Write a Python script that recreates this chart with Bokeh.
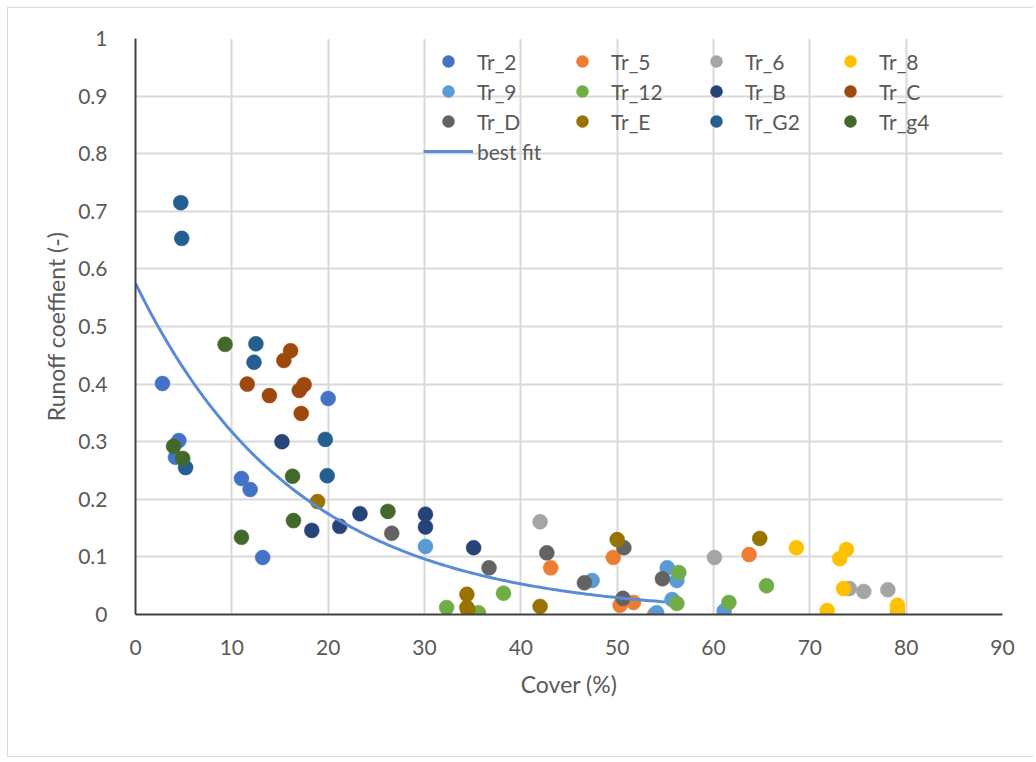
from bokeh.plotting import figure
from bokeh.models import Legend, LegendItem, FixedTicker, Range1d
from bokeh.embed import file_html
from bokeh.resources import INLINE
import numpy as np

# ---------------- data ----------------
tr2_x = [2.8, 4.5, 4.15, 11.0, 11.9, 13.2, 20.0]
tr2_y = [0.401, 0.302, 0.273, 0.236, 0.217, 0.099, 0.375]

tr5_x = [43.1, 49.6, 50.3, 51.7, 53.9, 63.7]
tr5_y = [0.081, 0.099, 0.016, 0.021, 0.0, 0.104]

tr6_x = [42.0, 60.1, 74.1, 75.6, 78.1, 79.1]
tr6_y = [0.161, 0.099, 0.045, 0.040, 0.043, 0.002]

tr8_x = [68.6, 73.1, 73.8, 73.5, 71.8, 79.1, 79.1]
tr8_y = [0.116, 0.097, 0.113, 0.045, 0.007, 0.016, 0.009]

tr9_x = [30.1, 47.4, 54.1, 55.2, 56.2, 55.7, 61.1]
tr9_y = [0.118, 0.059, 0.003, 0.081, 0.059, 0.026, 0.006]

tr12_x = [32.3, 35.6, 38.2, 56.4, 56.2, 61.6, 65.5]
tr12_y = [0.012, 0.003, 0.037, 0.073, 0.019, 0.021, 0.050]

trB_x = [15.2, 18.3, 21.2, 23.3, 30.1, 30.1, 35.1]
trB_y = [0.300, 0.146, 0.153, 0.175, 0.174, 0.152, 0.116]

trC_x = [11.6, 13.9, 15.4, 16.1, 17.0, 17.5, 17.2]
trC_y = [0.400, 0.380, 0.441, 0.458, 0.389, 0.399, 0.349]

trD_x = [26.6, 36.7, 42.7, 46.6, 50.7, 50.6, 54.7]
trD_y = [0.141, 0.081, 0.107, 0.055, 0.116, 0.028, 0.062]

trE_x = [18.9, 34.4, 34.4, 34.5, 42.0, 50.0, 64.8]
trE_y = [0.196, 0.035, 0.012, 0.008, 0.014, 0.130, 0.132]

trG2_x = [4.7, 4.8, 12.5, 12.3, 19.7, 19.9, 5.2]
trG2_y = [0.715, 0.653, 0.470, 0.438, 0.304, 0.241, 0.255]

trg4_x = [9.3, 3.95, 4.9, 16.3, 16.4, 11.0, 26.2]
trg4_y = [0.469, 0.292, 0.271, 0.240, 0.163, 0.134, 0.179]

series_names = ["Tr_2", "Tr_5", "Tr_6", "Tr_8", "Tr_9", "Tr_12",
                "Tr_B", "Tr_C", "Tr_D", "Tr_E", "Tr_G2", "Tr_g4"]
series_x = [tr2_x, tr5_x, tr6_x, tr8_x, tr9_x, tr12_x,
            trB_x, trC_x, trD_x, trE_x, trG2_x, trg4_x]
series_y = [tr2_y, tr5_y, tr6_y, tr8_y, tr9_y, tr12_y,
            trB_y, trC_y, trD_y, trE_y, trG2_y, trg4_y]
series_colors = ["#4472C4", "#ED7D31", "#A5A5A5", "#FFC000", "#5B9BD5", "#70AD47",
                 "#264478", "#9E480E", "#636363", "#997300", "#255E91", "#43682B"]

# exponential best fit  y = a * exp(-k x), drawn from x=0 to x=55
fit_a = 0.575
fit_k = 0.0595
fit_x_start = 0.0
fit_x_end = 55.0

x_ticks = [0, 10, 20, 30, 40, 50, 60, 70, 80, 90]
y_ticks = [0, 0.1, 0.2, 0.3, 0.4, 0.5, 0.6, 0.7, 0.8, 0.9, 1.0]
y_labels = ["0", "0.1", "0.2", "0.3", "0.4", "0.5", "0.6", "0.7", "0.8", "0.9", "1"]

x_title = "Cover (%)"
y_title = "Runoff coeffient (-)"

# ---------------- figure ----------------
FONT = "Lato"
TXT = "#595959"

p = figure(width=1026, height=750, output_backend="svg", toolbar_location=None,
           x_range=Range1d(0, 90), y_range=Range1d(0, 1),
           min_border_left=127, min_border_right=32,
           min_border_top=30, min_border_bottom=144,
           background_fill_color="white", border_fill_color="white")
p.outline_line_color = None
p.styles = {"border-top": "1px solid #D9D9D9",
            "border-left": "1px solid #D9D9D9",
            "border-bottom": "1px solid #D9D9D9",
            "margin-top": "7px", "margin-left": "7px"}

p.grid.grid_line_color = "#D9D9D9"
p.grid.grid_line_width = 2
p.xgrid.ticker = FixedTicker(ticks=x_ticks)
p.ygrid.ticker = FixedTicker(ticks=y_ticks)

p.xaxis.ticker = FixedTicker(ticks=x_ticks)
p.yaxis.ticker = FixedTicker(ticks=y_ticks)
p.yaxis.major_label_overrides = {t: l for t, l in zip(y_ticks, y_labels)}
for ax in (p.xaxis, p.yaxis):
    ax.major_tick_line_color = None
    ax.minor_tick_line_color = None
    ax.axis_line_color = "#404040"
    ax.axis_line_width = 2
    ax.major_label_text_font = FONT
    ax.major_label_text_font_size = "21px"
    ax.major_label_text_color = TXT
    ax.axis_label_text_font = FONT
    ax.axis_label_text_font_size = "23px"
    ax.axis_label_text_font_style = "normal"
    ax.axis_label_text_color = TXT
p.xaxis.axis_label = x_title
p.yaxis.axis_label = y_title
p.xaxis.major_label_standoff = 19
p.yaxis.major_label_standoff = 22
p.xaxis.axis_label_standoff = 12
p.yaxis.axis_label_standoff = 5

items = []
for name, xs, ys, c in zip(series_names, series_x, series_y, series_colors):
    r = p.scatter(xs, ys, size=15, fill_color=c, line_color=c, line_width=0.5)
    items.append(LegendItem(label=name, renderers=[r]))

fx = np.linspace(fit_x_start, fit_x_end, 200)
fy = fit_a * np.exp(-fit_k * fx)
rl = p.line(fx, fy, line_color="#5B8BD8", line_width=3)
items.append(LegendItem(label="best fit", renderers=[rl]))

legend = Legend(items=items, location=(288, 448), orientation="horizontal", ncols=4,
                glyph_width=50, glyph_height=30, label_height=30, label_width=80,
                spacing=0, padding=0, margin=0, label_standoff=4,
                background_fill_alpha=0, border_line_alpha=0,
                label_text_font=FONT, label_text_font_size="21px",
                label_text_color=TXT)
p.add_layout(legend)

open("out.html", "w").write(file_html(p, INLINE))
